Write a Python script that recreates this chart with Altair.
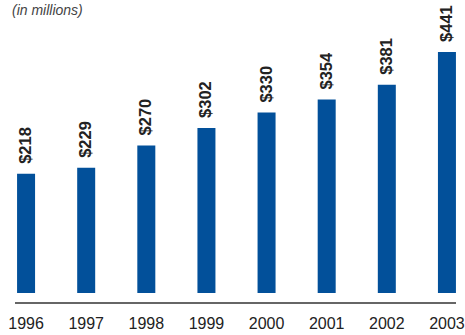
import altair as alt
import pandas as pd

years = ["1996", "1997", "1998", "1999", "2000", "2001", "2002", "2003"]
values = [218, 229, 270, 302, 330, 354, 381, 441]
labels = ["$218", "$229", "$270", "$302", "$330", "$354", "$381", "$441"]

df = pd.DataFrame({"year": years, "value": values, "label": labels})

FONT = "Liberation Sans"
BLUE = "#02509a"

x = alt.X("year:N", scale=alt.Scale(domain=years, range=[-4, 477], paddingInner=0.7, paddingOuter=0.35), axis=None)
y = alt.Y("value:Q", scale=alt.Scale(domain=[0, 536], range=[293, 0]), axis=None)

base = alt.Chart(df)

bars = base.mark_bar(color=BLUE, width=18).encode(x=x, y=y)

vals = base.mark_text(angle=270, align="left", baseline="middle", dx=10,
                      font=FONT, fontSize=16.5, fontWeight="bold", color="#222").encode(
    x=x, y=y, text="label:N")

yrs = base.mark_text(baseline="middle", font=FONT, fontSize=16, color="#222").encode(
    x=x, y=alt.value(324), text="year:N")

axis_line = alt.Chart(pd.DataFrame({"a": [0]})).mark_rule(color="#333", strokeWidth=1.5).encode(
    x=alt.value(15), x2=alt.value(456), y=alt.value(303))

title = alt.Chart(pd.DataFrame({"t": ["(in millions)"]})).mark_text(
    align="left", baseline="middle", font=FONT, fontSize=14, fontStyle="italic", color="#444").encode(
    x=alt.value(12), y=alt.value(11), text="t:N")

chart = alt.layer(bars, vals, yrs, axis_line, title).properties(
    width=465, height=335, autosize=alt.AutoSizeParams(type="none"), padding=0
).configure_view(stroke=None)

chart.save("out.html", embed_options={"renderer": "svg", "actions": False})
